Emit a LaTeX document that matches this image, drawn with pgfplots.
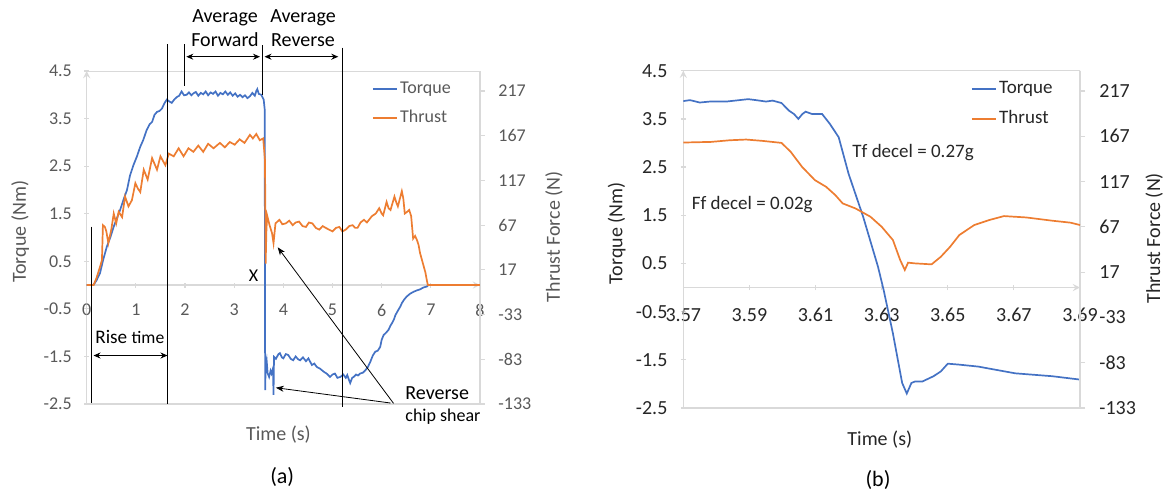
\documentclass[border=0pt]{standalone}
\usepackage{fontspec}
\setmainfont{Carlito}
\usepackage{pgfplots}
\pgfplotsset{compat=1.18}
\usetikzlibrary{arrows.meta}
\definecolor{tq}{HTML}{4472C4}
\definecolor{th}{HTML}{ED7D31}
\definecolor{axgray}{HTML}{D9D9D9}
\definecolor{txa}{HTML}{595959}
\definecolor{txb}{HTML}{262626}
\pgfplotsset{
  excelbase/.style={
    scale only axis, anchor=south west,
    axis line style={draw=axgray, line width=0.6pt, -},
    every inner x axis line/.append style={-},
    every outer x axis line/.append style={-},
    every inner y axis line/.append style={-},
    every outer y axis line/.append style={-},
    tick style={draw=axgray, line width=0.6pt},
    major tick length=2.5pt,
    tick align=outside,
    hide obscured x ticks=false, hide obscured y ticks=false,
  },
  leftax/.style={
    excelbase,
    axis x line=middle, axis y line=left,
    ymin=-2.5, ymax=4.5,
    ytick={-2.5,-1.5,-0.5,0.5,1.5,2.5,3.5,4.5},
    yticklabels={-2.5,-1.5,-0.5,0.5,1.5,2.5,3.5,4.5},
    xticklabel style={anchor=north, inner sep=0pt},
    yticklabel style={anchor=east, inner sep=0pt},
    legend cell align=left,
    legend image code/.code={\draw[#1] (0pt,0pt) -- (12.2pt,0pt);},
  },
  rightax/.style={
    excelbase,
    axis x line=none, axis y line*=right,
    ymin=-133, ymax=239.4,
    ytick={-133,-83,-33,17,67,117,167,217},
    yticklabels={-133,-83,-33,17,67,117,167,217},
    yticklabel style={anchor=west, inner sep=0pt},
  },
}
\begin{document}
\begin{tikzpicture}
\path[use as bounding box] (0pt,0pt) rectangle (585.5pt,-247.5pt);

% ---------------- Panel (a) ----------------
\begin{axis}[leftax, at={(43.35pt,-202pt)}, width=196.65pt, height=166.5pt,
  xmin=0, xmax=8, xtick={0,1,2,3,4,5,6,7,8}, xticklabels={0,1,2,3,4,5,6,7,8},
  ticklabel style={font=\fontsize{9}{10}\selectfont, text=txa},
  xticklabel style={yshift=-8pt},
  yticklabel style={xshift=-6pt},
  legend style={at={(rel axis cs:0.7247,0.978)}, anchor=north west, draw=none, fill=none,
    font=\fontsize{9}{10}\selectfont, text=txa, inner sep=0pt, row sep=4.4pt,
    nodes={inner sep=1pt, text height=6.3pt, text depth=1.9pt}},
]
\draw[axgray, line width=0.6pt] (rel axis cs:0,0) rectangle (rel axis cs:1,1);
\addplot[tq, line width=0.85pt] coordinates {
(0,0) (0.136,0) (0.2,0.1) (0.27,0.25) (0.34,0.55) (0.41,0.81) (0.48,1.0) (0.55,1.23) (0.62,1.42) (0.68,1.58) (0.75,1.8) (0.82,2.0) (0.88,2.3) (0.95,2.52) (1.02,2.7) (1.09,2.91) (1.15,3.05) (1.22,3.26) (1.28,3.38) (1.33,3.43) (1.38,3.58) (1.43,3.64) (1.48,3.66) (1.53,3.71) (1.58,3.82) (1.63,3.90) (1.68,3.86) (1.73,3.83) (1.78,3.9) (1.83,3.95) (1.88,3.98) (1.93,4.07) (1.98,3.99) (2.03,4.0) (2.08,4.05) (2.13,3.99) (2.17,4.03) (2.22,4.06) (2.27,3.98) (2.32,4.04) (2.37,4.01) (2.42,4.07) (2.47,3.99) (2.52,4.05) (2.57,4.02) (2.62,4.07) (2.67,3.98) (2.72,4.04) (2.77,4.01) (2.82,4.07) (2.87,4.0) (2.92,4.05) (2.97,3.98) (3.02,4.03) (3.07,3.96) (3.12,4.0) (3.17,3.95) (3.22,3.99) (3.27,3.93) (3.32,3.97) (3.37,4.04) (3.42,3.98) (3.45,4.08) (3.47,4.12) (3.5,4.02) (3.55,4.0) (3.6,3.9) (3.62,3.7) (3.626,0.4) (3.63,-2.21) (3.64,-1.7) (3.66,-1.58) (3.68,-1.85) (3.71,-1.93) (3.74,-1.8) (3.76,-1.86) (3.79,-1.75) (3.8,-2.31) (3.81,-1.51) (3.85,-1.55) (3.9,-1.45) (3.93,-1.43) (3.97,-1.52) (4.0,-1.54) (4.05,-1.45) (4.1,-1.47) (4.15,-1.55) (4.2,-1.58) (4.25,-1.5) (4.3,-1.56) (4.34,-1.58) (4.4,-1.52) (4.46,-1.6) (4.51,-1.54) (4.58,-1.68) (4.63,-1.65) (4.68,-1.72) (4.75,-1.76) (4.82,-1.82) (4.88,-1.86) (4.95,-1.93) (5.0,-1.88) (5.05,-1.86) (5.1,-1.95) (5.16,-1.93) (5.22,-1.88) (5.27,-1.95) (5.3,-1.89) (5.33,-1.98) (5.36,-2.06) (5.4,-1.95) (5.43,-1.93) (5.48,-1.88) (5.52,-1.9) (5.56,-1.86) (5.62,-1.84) (5.67,-1.79) (5.72,-1.72) (5.77,-1.61) (5.82,-1.48) (5.87,-1.40) (5.92,-1.38) (5.97,-1.3) (6.0,-1.15) (6.04,-1.05) (6.09,-1.0) (6.14,-0.94) (6.18,-0.85) (6.21,-0.80) (6.25,-0.72) (6.28,-0.63) (6.34,-0.52) (6.38,-0.45) (6.41,-0.38) (6.46,-0.3) (6.51,-0.24) (6.58,-0.18) (6.65,-0.14) (6.72,-0.11) (6.78,-0.09) (6.85,-0.05) (6.92,-0.03) (6.95,0) (8,0)
};
\addlegendentry{Torque}
\addlegendimage{th, line width=0.85pt}
\addlegendentry{Thrust}
\end{axis}
\begin{axis}[rightax, at={(43.35pt,-202pt)}, width=196.65pt, height=166.5pt,
  xmin=0, xmax=8,
  ticklabel style={font=\fontsize{9}{10}\selectfont, text=txa},
  yticklabel style={xshift=6.5pt},
]
\addplot[th, line width=0.85pt] coordinates {
(0,0) (0.14,0) (0.2,8) (0.24,15) (0.28,22) (0.31,28) (0.33,67) (0.37,65) (0.4,60) (0.44,47) (0.5,62) (0.55,80) (0.6,69) (0.65,82) (0.72,76) (0.78,99) (0.85,88) (0.92,95) (0.99,114) (1.04,108) (1.09,104) (1.16,129) (1.24,118) (1.33,142) (1.43,129) (1.5,144) (1.6,134) (1.67,147) (1.77,144) (1.87,153) (1.97,144) (2.07,153) (2.17,149) (2.27,156) (2.37,149) (2.47,158) (2.58,153) (2.71,159) (2.81,154) (2.91,160) (3.01,157) (3.11,163) (3.21,159) (3.32,168) (3.38,164) (3.45,169) (3.52,162) (3.59,164) (3.626,140) (3.635,76) (3.64,24) (3.655,60) (3.67,78) (3.72,67) (3.77,58) (3.8,47) (3.84,69) (3.92,73) (3.98,68) (4.05,69) (4.12,72) (4.19,67) (4.25,70) (4.32,71) (4.39,66) (4.46,65) (4.52,70) (4.59,69) (4.66,64) (4.73,62) (4.8,66) (4.86,64) (4.93,62) (5.0,60) (5.07,64) (5.14,65) (5.2,60) (5.27,62) (5.34,66) (5.41,67) (5.46,64) (5.51,64) (5.57,70) (5.64,73) (5.7,70) (5.8,77) (5.88,80) (5.95,86) (6.0,80) (6.03,78) (6.1,93) (6.14,86) (6.18,84) (6.26,99) (6.3,92) (6.33,88) (6.41,105) (6.44,97) (6.47,80) (6.52,82) (6.56,84) (6.6,77) (6.64,52) (6.68,55) (6.72,50) (6.75,45) (6.78,36) (6.82,28) (6.86,20) (6.89,14) (6.92,5) (6.94,0) (8,0)
};
\end{axis}

% ---------------- Panel (b) ----------------
\begin{axis}[leftax, at={(341.65pt,-204pt)}, width=198.35pt, height=168.65pt,
  xmin=3.57, xmax=3.69, xtick={3.57,3.59,3.61,3.63,3.65,3.67,3.69},
  xticklabels={3.57,3.59,3.61,3.63,3.65,3.67,3.69},
  ticklabel style={font=\fontsize{10}{11}\selectfont, text=txb},
  xticklabel style={yshift=-9pt},
  yticklabel style={xshift=-6.5pt},
  legend style={at={(rel axis cs:0.7245,0.978)}, anchor=north west, draw=none, fill=none,
    font=\fontsize{9.5}{10}\selectfont, text=txb, inner sep=0pt, row sep=4.2pt,
    nodes={inner sep=1pt, text height=6.6pt, text depth=2pt}},
]
\draw[axgray, line width=0.6pt] (rel axis cs:0,0) rectangle (rel axis cs:1,1);
\addplot[tq, line width=0.85pt] coordinates {
(3.57,3.87) (3.572,3.89) (3.575,3.84) (3.578,3.86) (3.583,3.86) (3.587,3.89) (3.5896,3.91) (3.592,3.89) (3.595,3.86) (3.597,3.88) (3.5997,3.83) (3.602,3.67) (3.6035,3.6) (3.6048,3.5) (3.606,3.6) (3.607,3.65) (3.609,3.6) (3.612,3.6) (3.6143,3.4) (3.617,3.12) (3.62,2.36) (3.6244,1.47) (3.6289,0.43) (3.6306,-0.05) (3.6334,-0.95) (3.6362,-1.98) (3.6376,-2.2) (3.639,-1.98) (3.6401,-1.95) (3.6423,-1.95) (3.6457,-1.84) (3.6479,-1.74) (3.650,-1.58) (3.6535,-1.6) (3.6592,-1.64) (3.6648,-1.71) (3.6704,-1.78) (3.676,-1.81) (3.6816,-1.84) (3.69,-1.91)
};
\addlegendentry{Torque}
\addlegendimage{th, line width=0.85pt}
\addlegendentry{Thrust}
\end{axis}
\begin{axis}[rightax, at={(341.65pt,-204pt)}, width=198.35pt, height=168.65pt,
  xmin=3.57, xmax=3.69,
  ticklabel style={font=\fontsize{10}{11}\selectfont, text=txb},
  yticklabel style={xshift=7pt},
]
\addplot[th, line width=0.85pt] coordinates {
(3.57,160.1) (3.5784,160.8) (3.584,162.6) (3.589,163.4) (3.594,161.9) (3.5997,159.7) (3.6025,149.8) (3.6059,133.3) (3.6098,118.6) (3.6132,111.2) (3.616,102) (3.6182,92.9) (3.6221,87.3) (3.6266,78.2) (3.63,67.1) (3.6334,52.5) (3.6356,30.4) (3.637,19.4) (3.638,27.5) (3.64,26.7) (3.6451,25.6) (3.6479,34) (3.6507,45) (3.6535,58) (3.658,69) (3.6625,74.5) (3.667,78.9) (3.6737,77.4) (3.6816,73.8) (3.6872,71.6) (3.69,69)
};
\end{axis}

% ---------------- Annotations (pixel coordinates) ----------------
\begin{scope}[x=0.5pt, y=-0.5pt]
\begin{scope}[black, line width=0.5pt]
\draw (91.6,226.7) -- (91.6,403.3);
\draw (167.5,44.3) -- (167.5,404);
\draw (184.8,44.3) -- (184.8,86);
\draw (262,45) -- (262,95);
\draw (342,47.7) -- (342,407.3);
\draw[{Stealth[length=3.5pt,width=3pt]}-{Stealth[length=3.5pt,width=3pt]}] (186.3,56.7) -- (260,56.7);
\draw[{Stealth[length=3.5pt,width=3pt]}-{Stealth[length=3.5pt,width=3pt]}] (264.5,56.7) -- (338.3,56.7);
\draw[{Stealth[length=3.5pt,width=3pt]}-{Stealth[length=3.5pt,width=3pt]}] (93.5,355.5) -- (167.5,355.5);
\draw[line width=0.4pt, -{Stealth[length=4pt,width=3pt]}] (393.5,403.3) -- (277.7,247.3);
\draw[line width=0.4pt, -{Stealth[length=4pt,width=3pt]}] (390.5,403) -- (275.8,387.7);
\end{scope}
\node[font=\fontsize{10}{11.65}\selectfont, align=center] at (225,28) {Average\\Forward};
\node[font=\fontsize{10}{11.65}\selectfont, align=center] at (303,28) {Average\\Reverse};
\node[anchor=west, inner sep=0pt] at (95,337) {\fontsize{9.6}{10}\selectfont Rise \fontsize{8.8}{9}\selectfont time};
\node[font=\fontsize{9}{10}\selectfont] at (253.6,276) {X};
\node[anchor=west, inner sep=0pt, font=\fontsize{10}{11}\selectfont] at (405,393) {Reverse};
\node[anchor=west, inner sep=0pt, font=\fontsize{9}{10}\selectfont] at (405,416.7) {chip shear};
\node[font=\fontsize{10}{11}\selectfont, text=txa] at (278.4,435) {Time (s)};
\node[font=\fontsize{10}{11}\selectfont, text=txa, rotate=90] at (20.2,231.7) {Torque (Nm)};
\node[font=\fontsize{10}{11}\selectfont, text=txa, rotate=90] at (554,236.7) {Thrust Force (N)};
\node[font=\fontsize{11}{12}\selectfont] at (282.2,476.7) {(a)};
% panel b
\node[font=\fontsize{10}{11}\selectfont, text=txb, rotate=90] at (616.6,233.3) {Torque (Nm)};
\node[font=\fontsize{10}{11}\selectfont, text=txb, rotate=90] at (1154.2,238.3) {Thrust Force (N)};
\node[font=\fontsize{10}{11}\selectfont, text=txb] at (879.8,440) {Time (s)};
\node[font=\fontsize{11}{12}\selectfont] at (878,480) {(b)};
\node[anchor=west, inner sep=0pt, font=\fontsize{9.5}{10}\selectfont, text=txb] at (852,152.3) {Tf decel = 0.27g};
\node[anchor=west, inner sep=0pt, font=\fontsize{9.5}{10}\selectfont, text=txb] at (691.5,205) {Ff decel = 0.02g};
\end{scope}
\end{tikzpicture}
\end{document}
